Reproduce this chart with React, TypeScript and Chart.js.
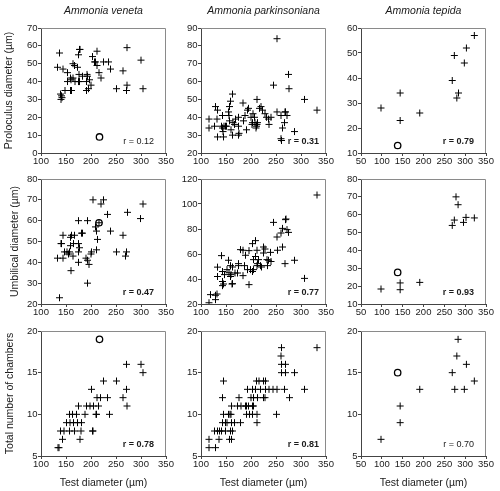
import React, { useEffect, useRef } from 'react';
import { Chart, registerables } from 'chart.js';

Chart.register(...registerables);

type Pt = [number, number];

const columnTitles = ['Ammonia veneta', 'Ammonia parkinsoniana', 'Ammonia tepida'];
const rowTitles = ['Proloculus diameter (µm)', 'Umbilical diameter (µm)', 'Total number of chambers'];
const xTitle = 'Test diameter (µm)';

const xRanges: number[][] = [[100, 350], [100, 350], [50, 350]];
const yRanges: number[][][] = [
  [[0, 70, 10], [20, 90, 10], [10, 60, 10]],
  [[20, 80, 10], [20, 120, 20], [10, 80, 10]],
  [[5, 20, 5], [5, 20, 5], [5, 20, 5]],
];
const rLabels: string[][] = [
  ['r = 0.12', 'r = 0.31', 'r = 0.79'],
  ['r = 0.47', 'r = 0.77', 'r = 0.93'],
  ['r = 0.78', 'r = 0.81', 'r = 0.70'],
];
const rBold: boolean[][] = [
  [false, true, true],
  [true, true, true],
  [true, true, false],
];

// Ammonia veneta
const venetaProloculus: Pt[] = [
  [137, 56], [133, 48], [144, 47], [153, 45], [164, 50], [167, 49], [175, 55], [177, 58], [178, 58],
  [173, 48], [176, 44], [183, 43], [164, 42], [159, 42], [160, 41], [153, 40], [168, 40], [175, 40],
  [177, 40], [192, 44], [193, 43], [197, 41], [191, 40], [200, 38], [195, 36], [191, 35], [159, 35],
  [161, 35], [148, 35], [141, 32], [142, 31], [140, 30], [139, 33], [203, 54], [207, 51], [209, 51],
  [212, 57], [212, 49], [216, 45], [220, 42], [225, 51], [235, 51], [239, 47], [251, 36], [264, 46],
  [272, 59], [271, 35], [272, 38], [300, 52], [304, 36],
];
const venetaProloculusOutlier: Pt[] = [[217, 9]];

const venetaUmbilical: Pt[] = [
  [137, 23], [133, 42], [144, 42], [140, 49], [141, 49], [144, 53], [147, 45], [152, 45], [155, 44],
  [157, 45], [159, 52], [161, 53], [159, 48], [165, 49], [167, 53], [164, 43], [160, 36], [175, 60],
  [175, 49], [177, 47], [175, 45], [175, 40], [181, 54], [183, 54], [193, 60], [190, 42], [193, 41],
  [196, 39], [193, 30], [200, 44], [201, 45], [204, 70], [209, 57], [211, 55], [213, 51], [211, 46],
  [216, 59], [220, 68], [225, 70], [233, 63], [239, 55], [251, 45], [264, 53], [273, 64], [271, 45],
  [269, 43], [299, 61], [304, 68],
];
const venetaUmbilicalOutlier: Pt[] = [[216, 59]];

const venetaChambers: Pt[] = [
  [134, 6], [136, 6], [143, 7], [178, 7],
  [139, 8], [146, 8], [157, 8], [167, 8], [180, 8], [203, 8], [204, 8],
  [151, 9], [158, 9], [165, 9], [173, 9], [181, 9],
  [157, 10], [163, 10], [171, 10], [188, 10], [210, 10], [211, 10], [237, 10],
  [175, 11], [191, 11], [198, 11], [205, 11], [215, 11], [272, 11],
  [212, 12], [219, 12], [233, 12], [264, 12],
  [201, 13], [271, 13], [225, 14], [251, 14], [304, 15], [271, 16], [300, 16],
];
const venetaChambersOutlier: Pt[] = [[217, 19]];

// Ammonia parkinsoniana
const parkinsonianaProloculus: Pt[] = [
  [116, 39], [116, 34], [129, 46], [133, 44], [127, 35], [132, 39], [133, 29], [143, 41], [141, 35],
  [143, 34], [146, 35], [149, 35], [144, 32], [145, 29], [151, 35], [155, 43], [157, 38], [156, 41],
  [157, 46], [159, 49], [163, 53], [160, 33], [163, 30], [164, 37], [167, 36], [169, 39], [175, 40],
  [175, 35], [176, 31], [175, 30], [184, 48], [185, 38], [188, 41], [193, 44], [195, 45], [191, 33],
  [200, 40], [204, 42], [207, 40], [203, 37], [202, 36], [208, 37], [212, 50], [211, 35], [210, 34],
  [212, 36], [213, 37], [217, 45], [220, 46], [223, 44], [228, 42], [231, 40], [235, 39], [240, 40],
  [236, 36], [245, 58], [252, 84], [252, 43], [260, 41], [263, 34], [260, 28], [261, 27], [268, 43],
  [269, 43], [272, 41], [267, 37], [275, 64], [276, 56], [287, 32], [307, 50], [332, 44],
];

const parkinsonianaUmbilical: Pt[] = [
  [116, 21], [119, 27.5], [129, 27], [132, 28], [129, 23.5], [133, 49.5], [133, 42], [141, 58.7],
  [143, 46], [143, 38], [143, 34.7], [145, 36], [147, 43.5], [152, 47.5], [155, 55], [159, 50.7],
  [156, 45], [159, 42], [160, 43.5], [163, 36.3], [162, 36], [163, 49.6], [168, 44.8], [173, 44.8],
  [175, 52.3], [175, 50.7], [179, 63.5], [184, 63], [187, 50.7], [184, 42.7], [189, 59], [193, 47.5],
  [196, 62.7], [196, 35.5], [199, 47.5], [203, 46], [205, 47.5], [203, 68.3], [209, 70.7], [205, 55.5],
  [209, 58], [212, 63], [215, 55.5], [212, 50.7], [213, 52.3], [219, 50.7], [221, 49.6], [225, 65.6],
  [228, 64], [225, 60.8], [232, 55.5], [233, 50.7], [235, 55], [240, 54], [239, 61.3], [245, 85.3],
  [252, 73.6], [253, 63], [263, 65.6], [260, 76.8], [263, 80.5], [268, 52.3], [269, 87.5], [270, 88],
  [272, 79.5], [275, 77.3], [287, 55], [307, 40.5], [332, 107.2],
];

const parkinsonianaChambers: Pt[] = [
  [116, 6], [129, 6],
  [116, 7], [136, 7], [157, 7], [161, 7],
  [127, 8], [133, 8], [137, 8], [141, 8], [149, 8], [159, 8], [163, 8],
  [143, 9], [149, 9], [152, 9], [161, 9], [167, 9], [179, 9], [212, 9],
  [145, 10], [155, 10], [158, 10], [160, 10], [191, 10], [197, 10], [203, 10], [212, 10], [251, 10],
  [161, 11], [173, 11], [180, 11], [189, 11], [191, 11], [195, 11], [203, 11], [205, 11],
  [143, 12], [176, 12], [200, 12], [205, 12], [213, 12], [225, 12], [228, 12], [277, 12],
  [193, 13], [203, 13], [209, 13], [219, 13], [229, 13], [236, 13], [244, 13], [252, 13], [267, 13], [307, 13],
  [145, 14], [211, 14], [216, 14], [225, 14], [229, 14],
  [261, 15], [269, 15], [287, 15],
  [261, 16], [269, 16],
  [260, 17],
  [261, 18], [332, 18],
];

// Ammonia tepida
const tepidaProloculus: Pt[] = [
  [98, 28], [144, 34], [144, 23], [191, 26], [269, 39], [274, 49], [284, 34], [280, 32], [303, 52],
  [298, 46], [322, 57],
];
const tepidaProloculusOutlier: Pt[] = [[138, 13]];

const tepidaUmbilical: Pt[] = [
  [98, 18.4], [144, 21.8], [144, 18], [191, 22.1], [269, 54], [274, 57], [278, 70], [283, 65.6],
  [296, 55.7], [302, 58.5], [322, 58.2],
];
const tepidaUmbilicalOutlier: Pt[] = [[138, 27.7]];

const tepidaChambers: Pt[] = [
  [98, 7], [144, 9], [144, 11], [191, 13], [269, 15], [275, 13], [280, 17], [283, 19], [298, 13],
  [303, 16], [322, 14],
];
const tepidaChambersOutlier: Pt[] = [[138, 15]];

const panelPoints: Pt[][][] = [
  [venetaProloculus, parkinsonianaProloculus, tepidaProloculus],
  [venetaUmbilical, parkinsonianaUmbilical, tepidaUmbilical],
  [venetaChambers, parkinsonianaChambers, tepidaChambers],
];
const panelOutliers: Pt[][][] = [
  [venetaProloculusOutlier, [], tepidaProloculusOutlier],
  [venetaUmbilicalOutlier, [], tepidaUmbilicalOutlier],
  [venetaChambersOutlier, [], tepidaChambersOutlier],
];

const FONT = '"Liberation Sans", Arial, Helvetica, sans-serif';
const TEXT = '#1a1a1a';
const AXIS = '#444';

const CANVAS_W = 180;
const CANVAS_H = 188;
const PAD_TOP = 28;
const PAD_RIGHT = 14;
const Y_W = 41;
const X_H = 35;
const colLeft = [0, 160, 320];
const rowTop = [0, 151, 303];
const yTitlePad = [2.7, 9.2, 3.7];
const rRightGap = [12, 7, 12];

function Panel({ r, c }: { r: number; c: number }) {
  const ref = useRef<HTMLCanvasElement | null>(null);
  useEffect(() => {
    if (!ref.current) return;
    const [xmin, xmax] = xRanges[c];
    const [ymin, ymax, ystep] = yRanges[r][c];
    const decor = {
      id: 'decor',
      afterDraw(chart: any) {
        const { ctx, chartArea } = chart;
        ctx.save();
        ctx.strokeStyle = '#8a8a8a';
        ctx.lineWidth = 1;
        ctx.beginPath();
        ctx.moveTo(chartArea.left, chartArea.top + 0.5);
        ctx.lineTo(chartArea.right - 0.5, chartArea.top + 0.5);
        ctx.lineTo(chartArea.right - 0.5, chartArea.bottom);
        ctx.stroke();
        ctx.fillStyle = TEXT;
        ctx.font = `${rBold[r][c] ? 'bold ' : ''}9px ${FONT}`;
        ctx.textAlign = 'right';
        ctx.textBaseline = 'middle';
        ctx.fillText(rLabels[r][c], chartArea.right - rRightGap[c], chartArea.bottom - 11);
        if (r === 0) {
          ctx.font = `italic 10.5px ${FONT}`;
          ctx.textAlign = 'center';
          ctx.fillText(columnTitles[c], (chartArea.left + chartArea.right) / 2, 11);
        }
        ctx.restore();
      },
    };
    const chart = new Chart(ref.current, {
      type: 'scatter',
      data: {
        datasets: [
          {
            data: panelPoints[r][c].map(([x, y]) => ({ x, y })),
            pointStyle: 'cross',
            pointRadius: 3.5,
            borderColor: '#000',
            backgroundColor: '#000',
            borderWidth: 1,
          },
          {
            data: panelOutliers[r][c].map(([x, y]) => ({ x, y })),
            pointStyle: 'circle',
            pointRadius: 3.2,
            borderColor: '#000',
            backgroundColor: 'rgba(0,0,0,0)',
            borderWidth: 1.3,
          },
        ],
      },
      options: {
        responsive: false,
        animation: false,
        events: [],
        layout: { padding: { left: 0, top: PAD_TOP, right: PAD_RIGHT, bottom: 0 } },
        plugins: { legend: { display: false }, tooltip: { enabled: false }, title: { display: false } },
        scales: {
          x: {
            type: 'linear',
            min: xmin,
            max: xmax,
            ticks: { stepSize: 50, color: TEXT, font: { size: 9.5, family: FONT }, padding: 0, maxRotation: 0, autoSkip: false },
            grid: { drawOnChartArea: false, drawTicks: true, tickLength: 3, color: AXIS },
            border: { display: true, color: AXIS },
            title: r === 2
              ? { display: true, text: xTitle, color: TEXT, font: { size: 10.5, family: FONT }, padding: { top: 0, bottom: 1.7 } }
              : { display: false },
            afterFit: (s: any) => { s.height = X_H; },
          },
          y: {
            type: 'linear',
            min: ymin,
            max: ymax,
            ticks: { stepSize: ystep, color: TEXT, font: { size: 9.5, family: FONT }, padding: 0.5, autoSkip: false },
            grid: { drawOnChartArea: false, drawTicks: true, tickLength: 3, color: AXIS },
            border: { display: true, color: AXIS },
            title: c === 0
              ? { display: true, text: rowTitles[r], color: TEXT, font: { size: 10.5, family: FONT }, padding: { top: yTitlePad[r], bottom: 0 } }
              : { display: false },
            afterFit: (s: any) => { s.width = Y_W; },
          },
        },
      } as any,
      plugins: [decor],
    });
    return () => chart.destroy();
  }, [r, c]);
  return (
    <canvas
      ref={ref}
      width={CANVAS_W}
      height={CANVAS_H}
      style={{ position: 'absolute', left: colLeft[c], top: rowTop[r], width: CANVAS_W, height: CANVAS_H }}
    />
  );
}

export default function App() {
  const cells = [];
  for (let r = 0; r < 3; r++) for (let c = 0; c < 3; c++) cells.push(<Panel key={`${r}-${c}`} r={r} c={c} />);
  return (
    <div style={{ position: 'absolute', left: 0, top: 0, width: 500, height: 491, overflow: 'hidden', background: '#fff' }}>
      {cells}
    </div>
  );
}
